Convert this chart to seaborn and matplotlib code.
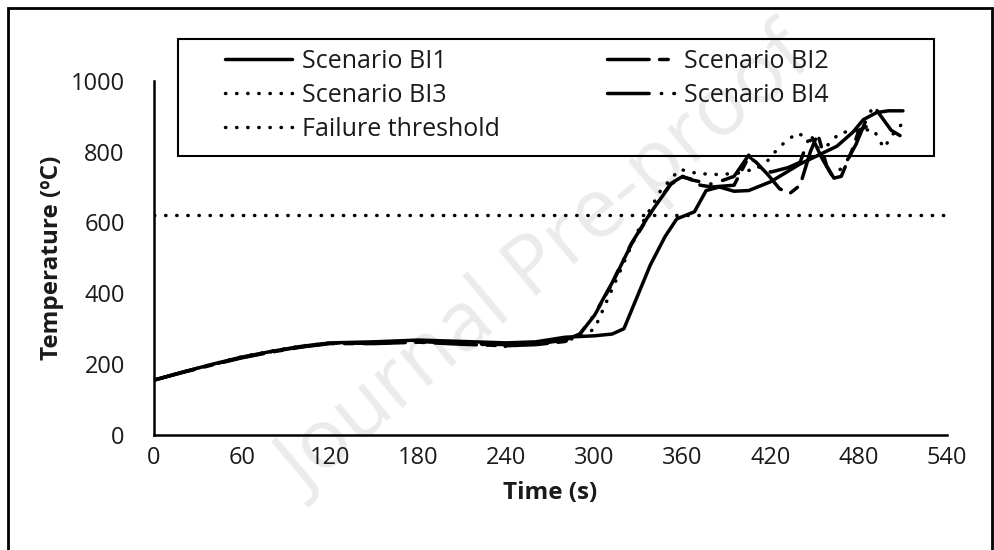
import numpy as np
import pandas as pd
import matplotlib
matplotlib.use("Agg")
import matplotlib.pyplot as plt
import seaborn as sns
from matplotlib.patches import Rectangle

# ---- data ----
t_bi1 = [0, 20, 40, 60, 80, 100, 120, 150, 180, 210, 240, 260, 280, 300, 312, 320, 328, 338, 348, 356, 362, 368, 376, 385, 395, 405, 420, 440, 455, 465, 476, 483, 492, 500, 510]
T_bi1 = [155, 178, 200, 220, 236, 250, 260, 263, 268, 264, 260, 263, 276, 280, 285, 300, 380, 480, 560, 610, 620, 630, 690, 700, 688, 690, 715, 765, 795, 815, 855, 890, 910, 915, 915]

t_bi2 = [0, 20, 40, 60, 80, 100, 120, 150, 180, 210, 240, 260, 280, 290, 300, 312, 325, 340, 352, 360, 366, 372, 380, 395, 405, 410, 418, 426, 433, 440, 447, 452, 458, 463, 468, 475, 480, 485]
T_bi2 = [155, 177, 198, 218, 234, 248, 258, 258, 262, 256, 252, 255, 264, 285, 338, 428, 538, 638, 708, 728, 722, 705, 700, 705, 785, 770, 735, 695, 682, 705, 800, 850, 760, 725, 730, 800, 860, 870]

t_bi3 = [0, 20, 40, 60, 80, 100, 120, 150, 180, 210, 240, 260, 280, 290, 300, 315, 330, 345, 358, 370, 385, 400, 415, 426, 438, 446, 451, 458, 467, 480, 490, 497, 505, 510]
T_bi3 = [155, 178, 200, 221, 237, 251, 260, 261, 266, 260, 250, 258, 268, 275, 300, 440, 580, 690, 750, 738, 735, 740, 760, 814, 853, 835, 810, 815, 853, 860, 862, 810, 860, 880]

t_bi4 = [0, 20, 40, 60, 80, 100, 120, 150, 180, 210, 240, 260, 280, 290, 300, 312, 325, 340, 352, 360, 366, 380, 395, 405, 410, 420, 432, 440, 447, 455, 462, 470, 478, 484, 490, 495, 502, 508]
T_bi4 = [155, 178, 199, 219, 235, 249, 259, 259, 264, 258, 255, 257, 268, 285, 340, 430, 540, 640, 710, 730, 720, 708, 730, 790, 760, 742, 755, 770, 850, 780, 730, 760, 820, 880, 930, 900, 860, 845]

threshold = 620
series_names = ["Scenario BI1", "Scenario BI2", "Scenario BI3", "Scenario BI4"]
x_ticks = [0, 60, 120, 180, 240, 300, 360, 420, 480, 540]
y_ticks = [0, 200, 400, 600, 800, 1000]

frames = []
for name, tt, TT in zip(series_names, [t_bi1, t_bi2, t_bi3, t_bi4], [T_bi1, T_bi2, T_bi3, T_bi4]):
    frames.append(pd.DataFrame({"Time": tt, "Temp": TT, "Series": name}))
df = pd.concat(frames, ignore_index=True)

sns.set_style("white")
plt.rcParams["font.family"] = ["Open Sans", "DejaVu Sans"]

W, H = 995, 550
fig = plt.figure(figsize=(W / 100, H / 100), dpi=100)
x0, x1, y_top, y_bot = 154, 947, 80.7, 435
ax = fig.add_axes([x0 / W, (H - y_bot) / H, (x1 - x0) / W, (y_bot - y_top) / H])
ax.patch.set_alpha(0)

def ax_x(px):
    return (px - x0) / (x1 - x0)

def ax_y(py):
    return (y_bot - py) / (y_bot - y_top)

lw = 2.5
dot = (0, (0.1, 3.1))
styles = {
    "Scenario BI1": dict(linestyle="-"),
    "Scenario BI2": dict(linestyle=(0, (12, 3, 2.5, 3))),
    "Scenario BI3": dict(linestyle=dot),
    "Scenario BI4": dict(linestyle=(0, (12, 3.5, 0.1, 3.5))),
}
handles = {}
for name in series_names:
    sub = df[df["Series"] == name]
    sns.lineplot(data=sub, x="Time", y="Temp", ax=ax, sort=False, estimator=None,
                 color="black", lw=lw, label=name, **styles[name])
    line = ax.lines[-1]
    line.set_dash_capstyle("round")
    line.set_solid_capstyle("round")
    handles[name] = line

thr = ax.axhline(threshold, color="black", lw=lw, linestyle=dot,
                 label="Failure threshold")
thr.set_dash_capstyle("round")

ax.set_xlim(0, 540)
ax.set_ylim(0, 1000)
ax.set_xticks(x_ticks)
ax.set_yticks(y_ticks)
ax.tick_params(axis="both", labelsize=17, direction="out", length=8, width=1.6,
               color="black", labelcolor="#1a1a1a")
ax.tick_params(axis="y", pad=13)
ax.tick_params(axis="x", pad=0)
for s in ["top", "right"]:
    ax.spines[s].set_visible(False)
for s in ["left", "bottom"]:
    ax.spines[s].set_color("black")
    ax.spines[s].set_linewidth(1.8)

ax.set_xlabel("Time (s)", fontsize=17.5, fontweight="bold", color="#1a1a1a")
ax.set_ylabel("Temperature (ºC)", fontsize=17.5, fontweight="bold", color="#1a1a1a")
ax.xaxis.set_label_coords(0.5, ax_y(493))
ax.xaxis.label.set_va("center")
ax.yaxis.set_label_coords(ax_x(52), 0.5)
ax.yaxis.label.set_va("center")

order = [handles["Scenario BI1"], handles["Scenario BI3"], thr,
         handles["Scenario BI2"], handles["Scenario BI4"]]
labels = [h.get_label() for h in order]
leg = ax.legend(order, labels, ncol=2, loc="center left",
                bbox_to_anchor=(ax_x(225), ax_y(95)), borderaxespad=0, borderpad=0,
                fontsize=18, handlelength=2.68, handletextpad=0.4, columnspacing=4.3,
                frameon=False, labelspacing=0.36)
for txt in leg.get_texts():
    txt.set_color("#1a1a1a")
for h in leg.get_lines():
    h.set_dash_capstyle("round")

# legend box
ax.add_patch(Rectangle((ax_x(178), ax_y(156)), ax_x(934) - ax_x(178), ax_y(39) - ax_y(156),
                       transform=ax.transAxes, fill=False, edgecolor="black", lw=1.5,
                       clip_on=False, zorder=5))

# watermark
fig.text(0.55, 0.52, "Journal Pre-proof", fontsize=60, color="#ebebeb",
         rotation=40, ha="center", va="center", zorder=-1)

# figure border
fig.patches.append(Rectangle((8 / W, -0.05), 984 / W, 1.05 - 8 / H,
                             transform=fig.transFigure, fill=False,
                             edgecolor="black", lw=2, zorder=10))

fig.savefig("out.png", dpi=100)
